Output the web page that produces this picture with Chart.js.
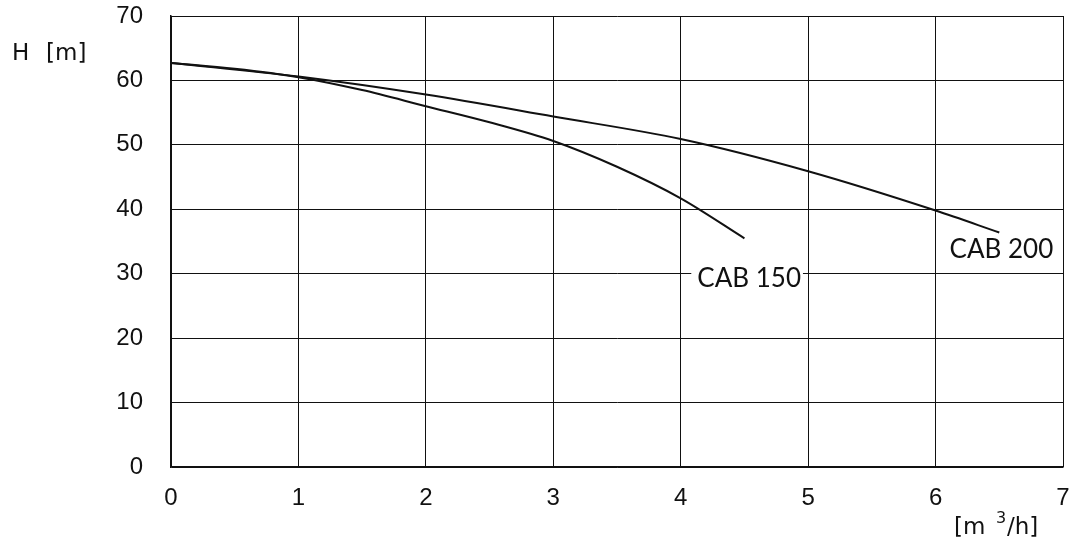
<!DOCTYPE html>
<html>
<head>
<meta charset="utf-8">
<script src="https://cdn.jsdelivr.net/npm/chart.js@4"></script>
<style>
  html, body { margin: 0; padding: 0; background: #fff; }
  #wrap { width: 1076px; height: 550px; }
</style>
</head>
<body>
<div id="wrap"><canvas id="myChart" width="1076" height="550"></canvas></div>
<script>
// flow [m3/h] and head [m]
var flow150 = [0, 0.5, 1, 1.5, 2, 2.5, 3, 3.5, 4, 4.5];
var head150 = [62.7, 61.8, 60.5, 58.5, 56.0, 53.5, 50.6, 46.6, 41.7, 35.5];
var flow200 = [0, 1, 2, 3, 4, 5, 6, 6.5];
var head200 = [62.7, 60.6, 57.8, 54.4, 50.9, 45.9, 39.8, 36.4];

var xTicks = [0, 1, 2, 3, 4, 5, 6, 7];
var yTicks = [0, 10, 20, 30, 40, 50, 60, 70];

// curve name labels, left edge / middle at data coordinates
var curveLabels = [
    { text: "CAB 150", x: 4.13, y: 29.3 },
    { text: "CAB 200", x: 6.11, y: 33.7 }
];

function toPoints(xs, ys) {
    return xs.map(function (x, i) { return { x: x, y: ys[i] }; });
}

// drop the label overflow padding so the plot frame sits where the layout padding puts it
function noPad(s) {
    s.paddingTop = 0; s.paddingBottom = 0; s.paddingLeft = 0; s.paddingRight = 0;
}

var labelPlugin = {
    id: "labelPlugin",
    afterDatasetsDraw: function (chart) {
        var ctx = chart.ctx;
        var xs = chart.scales.x, ys = chart.scales.y;
        ctx.save();
        ctx.font = "26px Lato";
        ctx.textBaseline = "middle";
        curveLabels.forEach(function (l) {
            var px = xs.getPixelForValue(l.x);
            var py = ys.getPixelForValue(l.y);
            var w = ctx.measureText(l.text).width;
            ctx.fillStyle = "#fff";
            ctx.fillRect(px - 6, py - 14, w + 8, 28);
            ctx.fillStyle = "#111";
            ctx.fillText(l.text, px, py);
        });
        // axis titles
        ctx.fillStyle = "#111";
        ctx.font = "23px 'DejaVu Sans'";
        ctx.fillText("H", 12, 54);
        ctx.fillText("[m]", 46, 54);
        ctx.fillText("[m", 954, 528);
        ctx.font = "16px 'DejaVu Sans'";
        ctx.fillText("3", 996, 519);
        ctx.font = "23px 'DejaVu Sans'";
        ctx.fillText("/h]", 1007, 528);
        ctx.restore();
    }
};

new Chart("myChart", {
    type: "line",
    data: {
        datasets: [{
            data: toPoints(flow150, head150),
            borderColor: "#111",
            borderWidth: 2,
            pointRadius: 0,
            cubicInterpolationMode: "monotone",
            fill: false
        }, {
            data: toPoints(flow200, head200),
            borderColor: "#111",
            borderWidth: 2,
            pointRadius: 0,
            cubicInterpolationMode: "monotone",
            fill: false
        }]
    },
    options: {
        responsive: false,
        animation: false,
        layout: { padding: { top: 16, right: 13, left: 0, bottom: 0 } },
        plugins: {
            legend: { display: false },
            tooltip: { enabled: false }
        },
        scales: {
            x: {
                type: "linear",
                min: 0,
                max: 7,
                afterBuildTicks: function (s) { s.ticks = xTicks.map(function (v) { return { value: v }; }); },
                afterFit: function (s) { s.height = 83; noPad(s); },
                grid: { color: "#111", lineWidth: 1, drawTicks: false },
                border: { color: "#111", width: 1.5 },
                ticks: { color: "#111", font: { family: "Liberation Sans", size: 24 }, padding: 17 }
            },
            y: {
                min: 0,
                max: 70,
                afterBuildTicks: function (s) { s.ticks = yTicks.map(function (v) { return { value: v }; }); },
                afterFit: function (s) { s.width = 171; noPad(s); },
                grid: { color: "#111", lineWidth: 1, drawTicks: false },
                border: { color: "#111", width: 1.5 },
                ticks: { color: "#111", font: { family: "Liberation Sans", size: 24 }, padding: 28 }
            }
        }
    },
    plugins: [labelPlugin]
});
</script>
</body>
</html>
